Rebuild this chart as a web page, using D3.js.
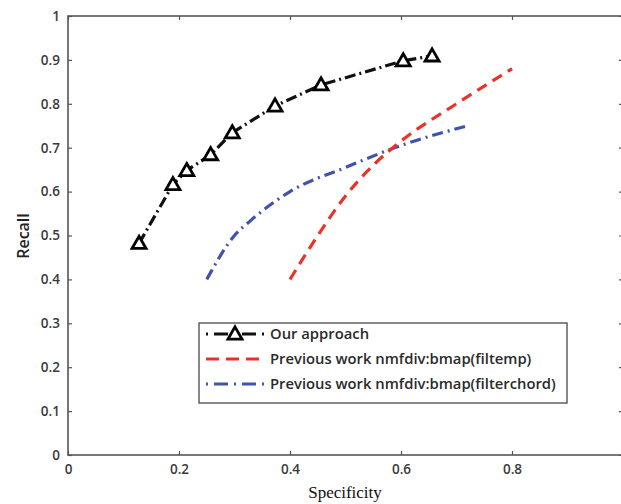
<!DOCTYPE html>
<html>
<head>
<meta charset="utf-8">
<script src="https://cdn.jsdelivr.net/npm/d3@7"></script>
<style>
  body { margin: 0; background: #fff; }
  svg { display: block; }
  .tick text { font-family: "Open Sans", sans-serif; font-weight: 600; font-size: 13.5px; fill: #3a3a3a; }
</style>
</head>
<body>
<div class="container"></div>
<script>
// values
var oursX = [0.128, 0.189, 0.214, 0.257, 0.296, 0.373, 0.456, 0.604, 0.656];
var oursY = [0.482, 0.616, 0.648, 0.684, 0.734, 0.795, 0.843, 0.898, 0.909];
var npX = [0.40, 0.45, 0.50, 0.55, 0.60, 0.70, 0.80];
var npY = [0.40, 0.50, 0.59, 0.66, 0.715, 0.80, 0.88];
var chordX = [0.25, 0.30, 0.33, 0.40, 0.50, 0.60, 0.72];
var chordY = [0.40, 0.50, 0.535, 0.60, 0.655, 0.705, 0.75];
// the "1" label of the x axis falls off the right edge of the picture
var xTicks = [0, 0.2, 0.4, 0.6, 0.8];
var yTicks = [0, 0.1, 0.2, 0.3, 0.4, 0.5, 0.6, 0.7, 0.8, 0.9, 1];
var names = ["Our approach", "Previous work nmfdiv:bmap(filtemp)", "Previous work nmfdiv:bmap(filterchord)"];

var W = 621, H = 504;
var m = {left: 68, top: 16, right: 623, bottom: 455};

var svg = d3.select(".container").append("svg")
  .attr("width", W).attr("height", H);

var x = d3.scaleLinear().domain([0, 1]).range([m.left, m.right]);
var y = d3.scaleLinear().domain([0, 1]).range([m.bottom, m.top]);

function fmt(d) { return d === 0 || d === 1 ? String(d) : String(+d.toFixed(1)); }

// axes, ticks pointing inward
svg.append("g").attr("transform", "translate(0," + m.bottom + ")")
  .call(d3.axisBottom(x).tickValues(xTicks).tickSize(-4).tickPadding(9).tickFormat(fmt));
svg.append("g").attr("transform", "translate(" + m.left + ",0)")
  .call(d3.axisLeft(y).tickValues(yTicks).tickSize(-4).tickPadding(8).tickFormat(fmt));
svg.append("g").attr("transform", "translate(0," + m.top + ")")
  .call(d3.axisTop(x).tickValues(xTicks).tickSize(-4).tickFormat(""));
svg.append("g").attr("transform", "translate(" + m.right + ",0)")
  .call(d3.axisRight(y).tickValues(yTicks).tickSize(-4).tickFormat(""));
svg.selectAll(".domain").remove();
svg.selectAll(".tick line").attr("stroke", "#555").attr("stroke-width", 1.2);

svg.append("rect")
  .attr("x", m.left).attr("y", m.top)
  .attr("width", m.right - m.left).attr("height", m.bottom - m.top)
  .attr("fill", "none").attr("stroke", "#555").attr("stroke-width", 1.6);

// axis titles
svg.append("text")
  .attr("x", 345).attr("y", 498)
  .attr("text-anchor", "middle")
  .style("font-family", "'Liberation Serif', 'Times New Roman', serif")
  .style("font-size", "17px").attr("fill", "#111")
  .text("Specificity");
svg.append("text")
  .attr("transform", "translate(29,236) rotate(-90)")
  .attr("text-anchor", "middle")
  .style("font-family", "'Open Sans', sans-serif").style("font-weight", 600)
  .style("font-size", "16px").attr("fill", "#222")
  .text("Recall");

var line = d3.line().x(function(d) { return x(d[0]); }).y(function(d) { return y(d[1]); });
var lineCurve = d3.line().curve(d3.curveMonotoneX).x(function(d) { return x(d[0]); }).y(function(d) { return y(d[1]); });

var ours = d3.zip(oursX, oursY);
var np = d3.zip(npX, npY);
var chord = d3.zip(chordX, chordY);

var styles = [
  {color: "#111", dash: "11,4,2,4"},
  {color: "#e8332b", dash: "11,7"},
  {color: "#4052b0", dash: "11,5,2,5"}
];

svg.append("path").datum(chord).attr("d", lineCurve)
  .attr("fill", "none").attr("stroke", styles[2].color).attr("stroke-width", 3.2)
  .attr("stroke-dasharray", styles[2].dash);
svg.append("path").datum(np).attr("d", lineCurve)
  .attr("fill", "none").attr("stroke", styles[1].color).attr("stroke-width", 3.2)
  .attr("stroke-dasharray", styles[1].dash);
svg.append("path").datum(ours).attr("d", line)
  .attr("fill", "none").attr("stroke", styles[0].color).attr("stroke-width", 3.2)
  .attr("stroke-dasharray", styles[0].dash);

var tri = d3.symbol().type(d3.symbolTriangle).size(85);
svg.selectAll("path.mark").data(ours).enter().append("path")
  .attr("class", "mark")
  .attr("d", tri)
  .attr("transform", function(d) { return "translate(" + x(d[0]) + "," + (y(d[1]) + 1) + ")"; })
  .attr("fill", "#fff").attr("stroke", "#000").attr("stroke-width", 2.8);

// legend
var lg = svg.append("g");
lg.append("rect").attr("x", 199).attr("y", 323).attr("width", 368).attr("height", 80)
  .attr("fill", "#fff").attr("stroke", "#555").attr("stroke-width", 1.4);
var rows = lg.selectAll("g.row").data(names).enter().append("g")
  .attr("class", "row")
  .attr("transform", function(d, i) { return "translate(0," + (334 + i * 25) + ")"; });
rows.append("line")
  .attr("x1", 206).attr("x2", 264).attr("y1", 0).attr("y2", 0)
  .attr("stroke", function(d, i) { return styles[i].color; })
  .attr("stroke-width", 3)
  .attr("stroke-dasharray", function(d, i) { return i === 1 ? "13,7" : "2,6,14,6"; });
rows.append("text")
  .attr("x", 270).attr("y", 5)
  .style("font-family", "'Open Sans', sans-serif").style("font-weight", 600)
  .style("font-size", "14.8px").attr("fill", "#2a2a2a")
  .text(function(d) { return d; });
lg.append("path").attr("d", tri)
  .attr("transform", "translate(235,335)")
  .attr("fill", "#fff").attr("stroke", "#000").attr("stroke-width", 2.8);
</script>
</body>
</html>
